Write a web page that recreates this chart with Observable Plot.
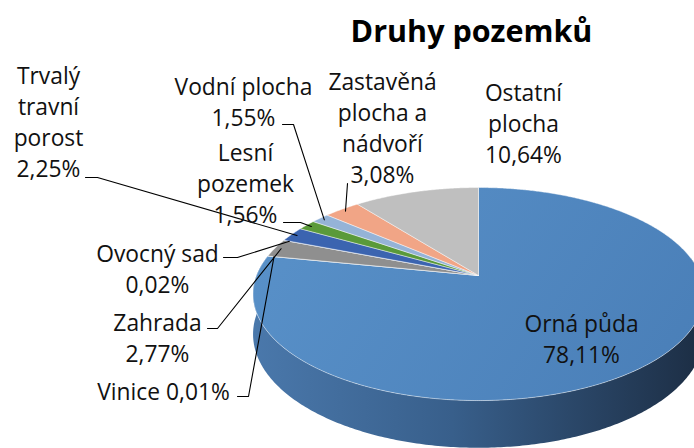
<!DOCTYPE html>
<html><head><meta charset="utf-8">
<script src="https://cdn.jsdelivr.net/npm/d3@7"></script>
<script src="https://cdn.jsdelivr.net/npm/@observablehq/plot@0.6"></script>
<style>body{margin:0;background:#fff}</style>
</head><body><div id="chart"></div>
<script>
// ---- data ----
const title = "Druhy pozemků";
const categories = ["Orná půda","Vinice","Zahrada","Ovocný sad","Trvalý travní porost","Lesní pozemek","Vodní plocha","Zastavěná plocha a nádvoří","Ostatní plocha"];
const shares = [78.11, 0.01, 2.77, 0.02, 2.25, 1.56, 1.55, 3.08, 10.64];
const shareLabels = ["78,11%","0,01%","2,77%","0,02%","2,25%","1,56%","1,55%","3,08%","10,64%"];
const labelLines = ["Orná půda\n{v}","Vinice {v}","Zahrada\n{v}","Ovocný sad\n{v}","Trvalý\ntravní\nporost\n{v}","Lesní\npozemek\n{v}","Vodní plocha\n{v}","Zastavěná\nplocha a\nnádvoří\n{v}","Ostatní\nplocha\n{v}"];
const colors = ["url(#topGrad)","#4bacc6","#8f8f8f","#4f81bd","#3b64b0","#5a9a3a","#95b3d7","#f1a586","#bfbfbf"];

// ---- layout (not data) ----
const geo = {cx: 478, cy: 275, rx: 222, ry: 103.3, p: 0.174, depth: 39};
const labelLayout = [
  {x: 581, y: 337.5, leader: null},
  {x: 163, y: 390, leader: [[237,396],[248,396]]},
  {x: 157, y: 336.5, leader: [[207,328],[217,328]]},
  {x: 157, y: 267, leader: [[223,257],[237,257]]},
  {x: 48, y: 120.5, leader: [[85,177],[97,177]]},
  {x: 245, y: 182, leader: [[283,222],[300,222]]},
  {x: 243, y: 100.5, leader: [[282,124],[293,124]]},
  {x: 382, y: 125.7, leader: [[347,183]]},
  {x: 523, y: 121.5, leader: null}
];
const FONT = "'Open Sans', Lato, sans-serif";
const FS = 22.8;

function proj(a, r = 1) { // a in radians, clockwise from 12 o'clock
  const f = 1 / (1 + geo.p * r * Math.cos(a));
  return [geo.cx + geo.rx * r * Math.sin(a) * f, geo.cy - geo.ry * r * Math.cos(a) * f, f];
}

const arcs = d3.pie().sort(null).startAngle(0).endAngle(2 * Math.PI)(shares);

// slice polygons
const slices = arcs.map((a, i) => {
  const pts = [[geo.cx, geo.cy]];
  const n = Math.max(2, Math.ceil((a.endAngle - a.startAngle) / 0.008));
  for (let k = 0; k <= n; k++) {
    const t = a.startAngle + (a.endAngle - a.startAngle) * k / n;
    const [x, y] = proj(t);
    pts.push([x, y]);
  }
  pts.push([geo.cx, geo.cy]);
  return pts.map(([x, y]) => ({name: categories[i], x, y}));
});

// side band (front, belongs to first slice)
const side = [];
{
  const a0 = 80 * Math.PI / 180, a1 = Math.min(arcs[0].endAngle, 282 * Math.PI / 180);
  const n = 300;
  const top = [], bot = [];
  for (let k = 0; k <= n; k++) {
    const t = a0 + (a1 - a0) * k / n;
    const [x, y, f] = proj(t);
    top.push({x, y}); bot.push({x, y: y + geo.depth * f});
  }
  side.push(...top, ...bot.reverse(), top[0]);
}

// leaders
const leaders = [];
labelLayout.forEach((L, i) => {
  if (!L.leader) return;
  const a = arcs[i];
  const [ex, ey] = proj((a.startAngle + a.endAngle) / 2, 0.97);
  const pts = [...L.leader, [ex, ey]];
  pts.forEach(([x, y]) => leaders.push({id: i, x, y}));
});

const labels = labelLayout.map((L, i) => ({x: L.x, y: L.y, text: labelLines[i].replace("{v}", shareLabels[i])}));

function defs() {
  const ns = "http://www.w3.org/2000/svg";
  const d = document.createElementNS(ns, "defs");
  d.innerHTML = `
    <linearGradient id="sideGrad" gradientUnits="userSpaceOnUse" x1="253" y1="0" x2="694" y2="0">
      <stop offset="0" stop-color="#4a78ab"/>
      <stop offset="0.45" stop-color="#385f8b"/>
      <stop offset="1" stop-color="#1d2f46"/>
    </linearGradient>
    <linearGradient id="topGrad" gradientUnits="userSpaceOnUse" x1="300" y1="190" x2="650" y2="420">
      <stop offset="0" stop-color="#5890c8"/>
      <stop offset="1" stop-color="#4a7fb8"/>
    </linearGradient>`;
  return d;
}

const chart = Plot.plot({
  width: 694, height: 448,
  margin: 0,
  x: {domain: [0, 694], range: [0, 694], axis: null},
  y: {domain: [0, 448], range: [0, 448], axis: null},
  style: {fontFamily: FONT, background: "#fff"},
  marks: [
    defs,
    Plot.line(side, {x: "x", y: "y", fill: "url(#sideGrad)", stroke: "none"}),
    ...slices.map((s, i) => Plot.line(s, {x: "x", y: "y", fill: colors[i], stroke: "#ffffff", strokeOpacity: 0.55, strokeWidth: 0.8})),
    Plot.line(leaders, {x: "x", y: "y", z: "id", stroke: "#000", strokeWidth: 1.1}),
    Plot.text(labels, {x: "x", y: "y", text: "text", fontSize: FS, lineHeight: 31 / FS, lineAnchor: "middle", textAnchor: "middle", fill: "#111", fontFamily: FONT}),
    Plot.text([title], {x: 471, y: 32, text: d => d, fontSize: 30.5, fontWeight: "bold", textAnchor: "middle", lineAnchor: "middle", fill: "#000", fontFamily: FONT})
  ]
});
document.getElementById("chart").appendChild(chart);
</script>
</body></html>
